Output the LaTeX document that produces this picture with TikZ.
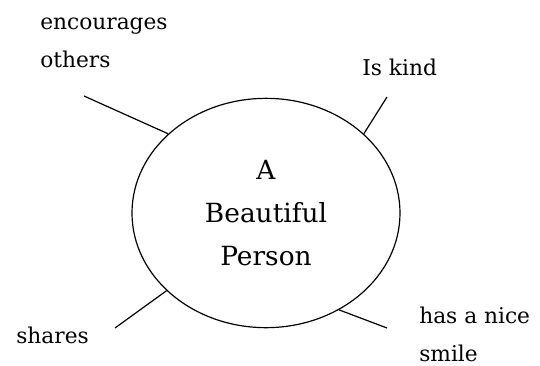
\documentclass[tikz,border=0pt]{standalone}
\usepackage{fontspec}
\setmainfont{DejaVu Serif}
\usepackage{tikz}
\usetikzlibrary{shapes.geometric}

\begin{document}
\begin{tikzpicture}[x=0.75pt, y=-0.75pt,
  every node/.style={font=\fontsize{16.3}{28}\selectfont, align=left, inner sep=0pt},
  centre/.style={draw, ellipse, line width=0.9pt, minimum width=201pt, minimum height=172pt,
    align=center, font=\fontsize{19.8}{32}\selectfont},
  spoke/.style={line width=0.9pt}]
  \useasboundingbox (0,0) rectangle (540,365);
  \node[centre] (person) at (266,213) {A\\Beautiful\\Person};
  \node[anchor=base west] (enc) at (40,67) {encourages\\others};
  \node[anchor=base west] (kind) at (362,75) {Is kind};
  \node[anchor=base west] (share) at (16,343) {shares};
  \node[anchor=base west] (smile) at (419,361) {has a nice\\smile};
  \coordinate (enc-end) at (84,96);
  \coordinate (kind-end) at (387,97);
  \coordinate (share-end) at (115,328);
  \coordinate (smile-end) at (387,328);
  \draw[spoke] (enc-end) -- (person.141.5);
  \draw[spoke] (kind-end) -- (person.39.3);
  \draw[spoke] (share-end) -- (person.218.7);
  \draw[spoke] (smile-end) -- (person.307);
\end{tikzpicture}
\end{document}
